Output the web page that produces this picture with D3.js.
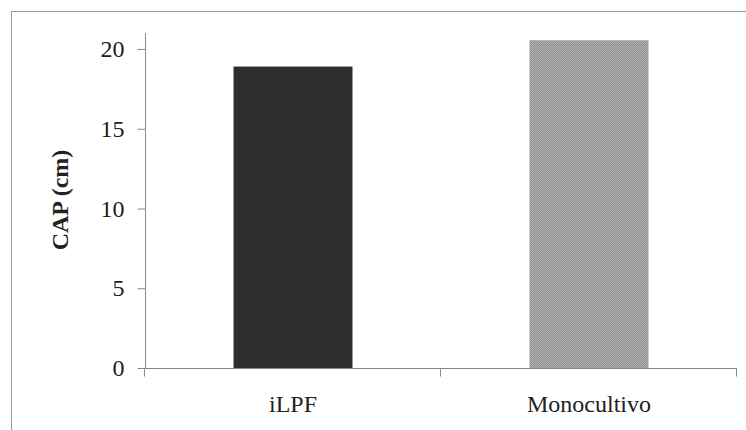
<!DOCTYPE html>
<html><head><meta charset="utf-8">
<script src="https://cdn.jsdelivr.net/npm/d3@7/dist/d3.min.js"></script>
<style>body{margin:0;background:#fff}svg{display:block}</style>
</head><body>
<script>
const categories = ["iLPF", "Monocultivo"];
const values = [18.9, 20.55];
const yTicks = [0, 5, 10, 15, 20];
const yLabel = "CAP (cm)";
const fillPairs = [["#262626", "#353535"], ["#8c8c8c", "#b6b6b6"]];
const FONT = "Liberation Serif";

const W = 746, H = 430;
const svg = d3.select("body").append("svg").attr("width", W).attr("height", H);

// fill textures
const defs = svg.append("defs");
fillPairs.forEach((p, i) => {
  const pat = defs.append("pattern").attr("id", "pat" + i).attr("patternUnits", "userSpaceOnUse")
    .attr("width", 2).attr("height", 2);
  pat.append("rect").attr("width", 2).attr("height", 2).attr("fill", p[0]);
  pat.append("rect").attr("width", 1).attr("height", 1).attr("fill", p[1]);
  pat.append("rect").attr("x", 1).attr("y", 1).attr("width", 1).attr("height", 1).attr("fill", p[1]);
});

// outer frame
svg.append("rect").attr("x", 11.5).attr("y", 11.5).attr("width", 760).attr("height", 440)
  .attr("fill", "none").attr("stroke", "#999").attr("stroke-width", 1);

const x = d3.scaleBand().domain(categories).range([145, 737]).paddingInner(0.598).paddingOuter(0.299);
const y = d3.scaleLinear().domain([0, 20]).range([368, 49]);

// bars
svg.selectAll("rect.bar").data(categories).enter().append("rect")
  .attr("class", "bar")
  .attr("x", d => x(d)).attr("width", x.bandwidth())
  .attr("y", (d, i) => y(values[i])).attr("height", (d, i) => y(0) - y(values[i]))
  .attr("fill", (d, i) => `url(#pat${i})`);

// y axis
const ya = svg.append("g").attr("transform", "translate(145.5,0)")
  .call(d3.axisLeft(y).tickValues(yTicks).tickSize(8).tickPadding(13).tickFormat(d3.format("d")));
ya.attr("font-family", FONT).attr("font-size", 24);
ya.select(".domain").attr("d", "M0,33V368").attr("stroke", "#888");
ya.selectAll(".tick line").attr("stroke", "#888");
ya.selectAll(".tick text").style("font-family", FONT).attr("font-size", 24).attr("fill", "#222");

// x axis
const xa = svg.append("g").attr("transform", "translate(0,368.5)");
xa.append("line").attr("x1", 145).attr("x2", 737).attr("stroke", "#888");
const bounds = [145, (145 + 737) / 2, 737];
xa.selectAll("line.t").data(bounds).enter().append("line").attr("class", "t")
  .attr("x1", d => Math.round(d) - 0.5).attr("x2", d => Math.round(d) - 0.5)
  .attr("y1", 0).attr("y2", 8).attr("stroke", "#888");
xa.selectAll("text").data(categories).enter().append("text")
  .attr("x", d => x(d) + x.bandwidth() / 2).attr("y", 43)
  .attr("text-anchor", "middle").style("font-family", FONT).attr("font-size", 24).attr("fill", "#222")
  .text(d => d);

// y label
svg.append("text").attr("transform", "translate(68,200) rotate(-90)")
  .attr("text-anchor", "middle").style("font-family", FONT).attr("font-size", 24)
  .attr("font-weight", "bold").attr("fill", "#222").text(yLabel);
</script>
</body></html>
